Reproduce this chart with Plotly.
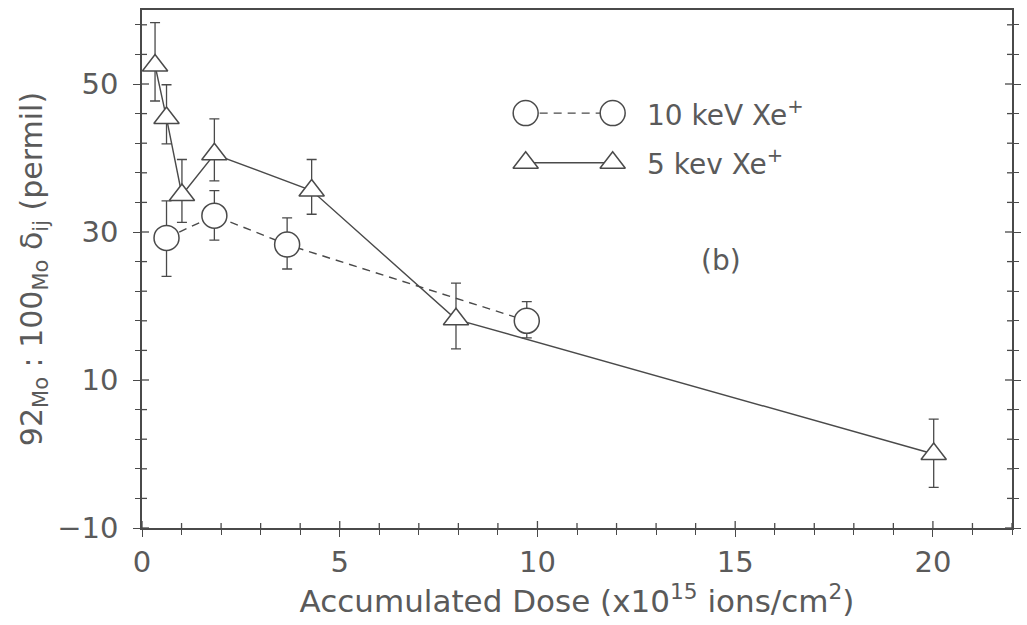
import plotly.graph_objects as go

# 10 keV Xe+ series (open circles, dashed line)
dose_10kev = [0.62, 1.83, 3.67, 9.73]
delta_10kev = [29.2, 32.2, 28.3, 18.0]
err_up_10kev = [5.0, 3.4, 3.6, 2.6]
err_dn_10kev = [5.2, 3.3, 3.3, 2.3]

# 5 keV Xe+ series (open triangles, solid line)
dose_5kev = [0.33, 0.62, 1.01, 1.83, 4.29, 7.94, 20.02]
delta_5kev = [52.5, 45.4, 35.0, 40.5, 35.6, 18.2, 0.0]
err_up_5kev = [5.8, 4.5, 4.8, 4.8, 4.2, 4.9, 4.7]
err_dn_5kev = [4.8, 3.5, 3.7, 3.6, 3.2, 4.0, 4.5]

x_ticks = [0, 5, 10, 15, 20]
y_ticks = [-10, 10, 30, 50]
x_range = [0, 22]
y_range = [-10, 60]
x_minor_step = 1
y_minor_step = 4

INK = "#4a4a4a"
TXT = "#5a5a5a"
FAMILY = "DejaVu Sans"
TICK_FONT = dict(family=FAMILY, size=29, color=TXT)
TITLE_FONT = dict(family=FAMILY, size=31, color=TXT)
KEY_FONT = dict(family=FAMILY, size=28, color=TXT)

tri_marker = dict(symbol="triangle-up", size=22, color="white", line=dict(width=1.5, color=INK))
circle_marker = dict(symbol="circle", size=25, color="white", line=dict(width=1.5, color=INK))
err_style = dict(type="data", symmetric=False, color=INK, thickness=1.3, width=5)

fig = go.Figure()

fig.add_trace(go.Scatter(
    x=dose_10kev, y=delta_10kev, mode="lines+markers",
    line=dict(color=INK, width=1.4, dash="8px,6px"),
    marker=circle_marker,
    error_y=dict(**err_style, array=err_up_10kev, arrayminus=err_dn_10kev),
    showlegend=False,
))

fig.add_trace(go.Scatter(
    x=dose_5kev, y=delta_5kev, mode="lines+markers",
    line=dict(color=INK, width=1.4),
    marker=tri_marker,
    error_y=dict(**err_style, array=err_up_5kev, arrayminus=err_dn_5kev),
    showlegend=False,
))

# legend key drawn on a unit-square helper axis
key_x = [0.441, 0.541]
key_row1 = 0.801
key_row2 = 0.705
fig.add_trace(go.Scatter(
    x=key_x, y=[key_row1, key_row1], xaxis="x2", yaxis="y2", mode="lines+markers",
    line=dict(color=INK, width=1.4, dash="8px,6px"), marker=circle_marker,
    showlegend=False, hoverinfo="skip",
))
fig.add_trace(go.Scatter(
    x=key_x, y=[key_row2, key_row2], xaxis="x2", yaxis="y2", mode="lines+markers",
    line=dict(color=INK, width=1.4), marker=tri_marker,
    showlegend=False, hoverinfo="skip",
))

# inward halves of the tick marks, so every tick crosses its axis line
MAJOR_LEN, MINOR_LEN = 7, 5
tick_shapes = []
x_minor_vals = [v for v in range(x_range[0], x_range[1] + 1, x_minor_step)]
for v in x_minor_vals:
    n = MAJOR_LEN if v in x_ticks else MINOR_LEN
    tick_shapes.append(dict(type="line", xref="x", yref="paper", ysizemode="pixel", yanchor=0,
                            x0=v, x1=v, y0=0, y1=n, line=dict(color=INK, width=1.3), layer="above"))
y_minor_vals = [v for v in range(y_range[0], y_range[1] + 1, y_minor_step)]
for v in y_minor_vals:
    n = MAJOR_LEN if v in y_ticks else MINOR_LEN
    for side, sign in ((0, 1), (1, -1)):
        tick_shapes.append(dict(type="line", yref="y", xref="paper", xsizemode="pixel", xanchor=side,
                                y0=v, y1=v, x0=0, x1=sign * n, line=dict(color=INK, width=1.3),
                                layer="above"))

fig.update_layout(
    width=1027, height=625,
    margin=dict(l=142, r=6, t=10, b=97),
    paper_bgcolor="white", plot_bgcolor="white",
    font=TICK_FONT,
    xaxis=dict(range=x_range, tickmode="array", tickvals=x_ticks, showgrid=False, zeroline=False,
               ticks="outside", ticklen=MAJOR_LEN, tickcolor=INK, tickwidth=1.3,
               showline=True, linecolor=INK, linewidth=1.5, mirror=True,
               minor=dict(dtick=x_minor_step, tick0=0, ticks="outside", ticklen=MINOR_LEN,
                          tickcolor=INK, tickwidth=1.3),
               tickfont=TICK_FONT, ticklabelstandoff=0,
               title=dict(text="Accumulated Dose (x10<sup>15</sup> ions/cm<sup>2</sup>)",
                          font=TITLE_FONT, standoff=2)),
    yaxis=dict(range=y_range, tickmode="array", tickvals=y_ticks, showgrid=False, zeroline=False,
               ticks="outside", ticklen=MAJOR_LEN, tickcolor=INK, tickwidth=1.3,
               showline=True, linecolor=INK, linewidth=1.5, mirror="ticks",
               minor=dict(dtick=y_minor_step, tick0=y_range[0], ticks="outside", ticklen=MINOR_LEN,
                          tickcolor=INK, tickwidth=1.3),
               tickfont=TICK_FONT, ticklabelstandoff=9,
               title=dict(text="92<sub>Mo</sub> : 100<sub>Mo</sub> δ<sub>ij</sub> (permil)",
                          font=dict(family=FAMILY, size=30, color=TXT), standoff=6)),
    xaxis2=dict(range=[0, 1], overlaying="x", visible=False, fixedrange=True),
    yaxis2=dict(range=[0, 1], overlaying="y", visible=False, fixedrange=True),
    shapes=tick_shapes,
    annotations=[
        dict(text="10 keV Xe<sup>+</sup>", x=0.578, y=key_row1, xref="paper", yref="paper",
             xanchor="left", yanchor="middle", showarrow=False, font=KEY_FONT),
        dict(text="5 kev Xe<sup>+</sup>", x=0.578, y=key_row2, xref="paper", yref="paper",
             xanchor="left", yanchor="middle", showarrow=False, font=KEY_FONT),
        dict(text="(b)", x=0.665, y=0.517, xref="paper", yref="paper",
             xanchor="center", yanchor="middle", showarrow=False, font=KEY_FONT),
    ],
)

fig.write_html("out.html")
